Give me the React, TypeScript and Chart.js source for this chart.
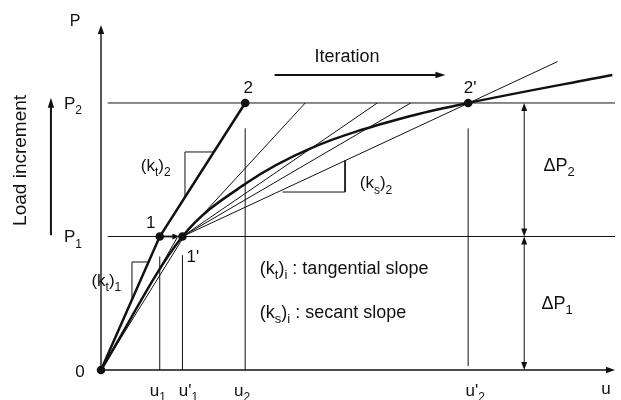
import { useEffect, useRef } from "react";
import { Chart, registerables } from "chart.js";

Chart.register(...registerables);

// Load levels P1, P2 (equal increments)
const loadLevels = [1, 2];
// Displacement marks on the u axis: u1, u'1, u2, u'2
const dispMarks = [0.44, 0.61, 1.08, 2.75];
const dispLabels = ["u|1", "u'|1", "u|2", "u'|2"];
// Top of each vertical displacement guide
const dispGuideTop = [0.85, 0.86, 1.81, 1.81];

// Axis extents
const uMax = 3.85;
const pMax = 2.584;

// True load–displacement curve
const curveU = [0, 0.61, 1.09, 1.57, 2.31, 2.75, 3.83];
const curveP = [0, 1.0, 1.4, 1.66, 1.9, 2.0, 2.21];

// Tangent predictor path 0 -> 1 -> 2
const tangentU = [0, 0.44, 1.08];
const tangentP = [0, 1, 2];

// Iteration lines fanning out from 1'
const fanEndU = [1.53, 2.07, 2.32, 3.42];
const fanEndP = [2, 2, 2, 2.31];

// Thin trial lines from the origin towards 1'
const trialEndU = [0.57, 0.64];
const trialEndP = [0.99, 1.03];

// Slope triangles
const kt1TriU = [0.232, 0.232, 0.358];
const kt1TriP = [0.525, 0.809, 0.809];
const kt2TriU = [0.629, 0.629, 0.845];
const kt2TriP = [1.294, 1.633, 1.633];
const ks2TriU = [1.828, 1.828, 1.36];
const ks2TriP = [1.569, 1.333, 1.333];

// Marked solution points: 0, 1, 1', 2, 2'
const markU = [0, 0.44, 0.61, 1.08, 2.75];
const markP = [0, 1, 1, 2, 2];

// Load-increment arrows on the right, iteration arrow on top, load arrow on the left
const deltaArrowU = 3.17;
const iterArrowU = [1.3, 2.58];
const iterArrowP = 2.21;
const loadArrowU = -0.375;
const loadArrowP = [1.01, 2.04];

const INK = "#111";
const FONT = '"Liberation Sans", Arial, Helvetica, sans-serif';

const zip = (us: number[], ps: number[]) => us.map((u, i) => ({ x: u, y: ps[i] }));

function seg(data: { x: number; y: number }[], width: number, extra: any = {}) {
  return {
    data,
    showLine: true,
    borderColor: INK,
    borderWidth: width,
    pointRadius: 0,
    fill: false,
    clip: false as any,
    ...extra,
  };
}

function arrowHead(ctx: CanvasRenderingContext2D, x: number, y: number, ang: number, len = 9, half = 3.2) {
  ctx.save();
  ctx.translate(x, y);
  ctx.rotate(ang);
  ctx.beginPath();
  ctx.moveTo(0, 0);
  ctx.lineTo(-len, -half);
  ctx.lineTo(-len, half);
  ctx.closePath();
  ctx.fillStyle = INK;
  ctx.fill();
  ctx.restore();
}

// Text with "|" separating alternating normal / subscript pieces
function rich(ctx: CanvasRenderingContext2D, text: string, x: number, y: number, size: number, align: "left" | "center" | "right" = "left") {
  const parts = text.split("|");
  const sub = Math.round(size * 0.7);
  const widths = parts.map((p, i) => {
    ctx.font = `${i % 2 ? sub : size}px ${FONT}`;
    return ctx.measureText(p).width;
  });
  const total = widths.reduce((a, b) => a + b, 0);
  let cx = align === "left" ? x : align === "center" ? x - total / 2 : x - total;
  ctx.textAlign = "left";
  ctx.textBaseline = "alphabetic";
  ctx.fillStyle = INK;
  parts.forEach((p, i) => {
    ctx.font = `${i % 2 ? sub : size}px ${FONT}`;
    ctx.fillText(p, cx, y + (i % 2 ? size * 0.3 : 0));
    cx += widths[i];
  });
}

const annotate = {
  id: "annotate",
  afterDatasetsDraw(chart: any) {
    const ctx: CanvasRenderingContext2D = chart.ctx;
    const xs = chart.scales.x;
    const ys = chart.scales.y;
    const X = (u: number) => xs.getPixelForValue(u);
    const Y = (p: number) => ys.getPixelForValue(p);
    ctx.save();

    // axis arrowheads
    arrowHead(ctx, X(uMax), Y(0), 0);
    arrowHead(ctx, X(0), Y(pMax), -Math.PI / 2);

    // small arrow 1 -> 1'
    arrowHead(ctx, X(markU[2]) - 3, Y(1), 0, 7, 3);

    // delta-P arrows
    arrowHead(ctx, X(deltaArrowU), Y(2), -Math.PI / 2, 8, 3);
    arrowHead(ctx, X(deltaArrowU), Y(1), Math.PI / 2, 8, 3);
    arrowHead(ctx, X(deltaArrowU), Y(1), -Math.PI / 2, 8, 3);
    arrowHead(ctx, X(deltaArrowU), Y(0), Math.PI / 2, 8, 3);

    // iteration and load arrows
    arrowHead(ctx, X(iterArrowU[1]), Y(iterArrowP), 0, 10, 3.2);
    arrowHead(ctx, X(loadArrowU), Y(loadArrowP[1]), -Math.PI / 2, 10, 3.2);

    // axis names
    rich(ctx, "P", X(0) - 26, Y(pMax) + 1, 16, "center");
    rich(ctx, "u", X(uMax) - 9, Y(0) + 24, 17, "center");
    rich(ctx, "0", X(0) - 21, Y(0) + 7, 17, "center");

    // load levels
    loadLevels.forEach((p, i) => rich(ctx, `P|${i + 1}`, X(0) - 19, Y(p) + 6, 17, "right"));

    // displacement labels
    const dx = [-2, 6, -3, 7];
    dispMarks.forEach((u, i) => rich(ctx, dispLabels[i], X(u) + dx[i], Y(0) + 26, 17, "center"));

    // point labels
    rich(ctx, "1", X(markU[1]) - 9, Y(1) - 8, 17, "center");
    rich(ctx, "1'", X(markU[2]) + 4, Y(1) + 26, 17, "left");
    rich(ctx, "2", X(markU[3]) + 3, Y(2) - 10, 17, "center");
    rich(ctx, "2'", X(markU[4]) + 2, Y(2) - 10, 17, "center");

    // slope labels
    rich(ctx, "(k|t|)|2", X(0.41), Y(1.49), 17, "center");
    rich(ctx, "(k|t|)|1", X(0.04), Y(0.63), 17, "center");
    rich(ctx, "(k|s|)|2", X(2.06), Y(1.36), 17, "center");

    // definitions
    rich(ctx, "(k|t|)|i| : tangential slope", X(1.19), Y(0.72), 18, "left");
    rich(ctx, "(k|s|)|i| : secant slope", X(1.19), Y(0.39), 18, "left");

    // delta-P labels
    rich(ctx, "\u0394P|2", X(deltaArrowU) + 35, Y(1.49), 18, "center");
    rich(ctx, "\u0394P|1", X(deltaArrowU) + 33, Y(0.46), 18, "center");

    // iteration
    rich(ctx, "Iteration", X(iterArrowU[0]) + 40, Y(iterArrowP) - 13, 18, "left");

    // vertical label
    ctx.save();
    ctx.translate(26, (Y(loadArrowP[0]) + Y(loadArrowP[1])) / 2 - 6);
    ctx.rotate(-Math.PI / 2);
    ctx.font = `19px ${FONT}`;
    ctx.textAlign = "center";
    ctx.textBaseline = "alphabetic";
    ctx.fillStyle = INK;
    ctx.fillText("Load increment", 0, 0);
    ctx.restore();

    ctx.restore();
  },
};

export default function App() {
  const ref = useRef<HTMLCanvasElement | null>(null);

  useEffect(() => {
    if (!ref.current) return;
    const datasets: any[] = [];

    // axes
    datasets.push(seg([{ x: 0, y: 0 }, { x: uMax - 0.03, y: 0 }], 1.4));
    datasets.push(seg([{ x: 0, y: 0 }, { x: 0, y: pMax - 0.03 }], 1.4));

    // load level guides
    loadLevels.forEach((p) => datasets.push(seg([{ x: 0.05, y: p }, { x: uMax, y: p }], 1)));

    // displacement guides
    dispMarks.forEach((u, i) =>
      datasets.push(seg([{ x: u, y: i === 3 ? 0.03 : 0 }, { x: u, y: dispGuideTop[i] }], 1))
    );

    // fan of iteration lines from 1'
    fanEndU.forEach((u, i) =>
      datasets.push(seg([{ x: markU[2], y: markP[2] }, { x: u, y: fanEndP[i] }], 1))
    );

    // trial lines from the origin
    trialEndU.forEach((u, i) => datasets.push(seg([{ x: 0, y: 0 }, { x: u, y: trialEndP[i] }], 1)));

    // slope triangles
    datasets.push(seg(zip(kt1TriU, kt1TriP), 1));
    datasets.push(seg(zip(kt2TriU, kt2TriP), 1));
    datasets.push(seg(zip(ks2TriU, ks2TriP), 1));

    // delta-P arrow shafts
    datasets.push(seg([{ x: deltaArrowU, y: 1.04 }, { x: deltaArrowU, y: 1.96 }], 1));
    datasets.push(seg([{ x: deltaArrowU, y: 0.04 }, { x: deltaArrowU, y: 0.96 }], 1));

    // iteration arrow shaft
    datasets.push(seg([{ x: iterArrowU[0], y: iterArrowP }, { x: iterArrowU[1] - 0.05, y: iterArrowP }], 2));
    // load increment arrow shaft
    datasets.push(seg([{ x: loadArrowU, y: loadArrowP[0] }, { x: loadArrowU, y: loadArrowP[1] - 0.05 }], 2));

    // arrow 1 -> 1'
    datasets.push(seg([{ x: markU[1], y: 1 }, { x: markU[2] - 0.05, y: 1 }], 1.8));

    // tangent predictor path
    datasets.push(seg(zip(tangentU, tangentP), 2.5));

    // true curve
    datasets.push(seg(zip(curveU, curveP), 2.5, { cubicInterpolationMode: "monotone" }));

    // solution points
    datasets.push({
      data: zip(markU, markP),
      showLine: false,
      pointRadius: 4.3,
      pointBackgroundColor: INK,
      pointBorderColor: INK,
      pointBorderWidth: 0,
      clip: false,
    });

    const chart = new Chart(ref.current, {
      type: "scatter",
      data: { datasets },
      options: {
        animation: false,
        responsive: false,
        events: [],
        layout: { padding: { left: 101, right: 6, top: 25, bottom: 30 } },
        plugins: { legend: { display: false }, tooltip: { enabled: false } },
        scales: {
          x: { type: "linear", min: 0, max: uMax, display: false },
          y: { type: "linear", min: 0, max: pMax, display: false },
        },
      },
      plugins: [annotate],
    });
    return () => chart.destroy();
  }, []);

  return (
    <div style={{ position: "fixed", left: 0, top: 0, width: 621, height: 400, background: "#fff" }}>
      <canvas ref={ref} width={621} height={400} />
    </div>
  );
}
